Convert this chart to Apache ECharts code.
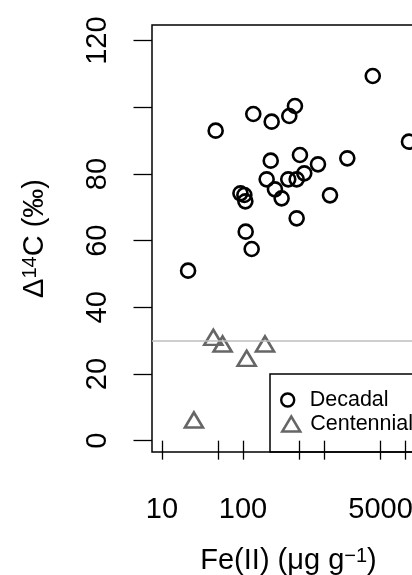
<!DOCTYPE html>
<html><head><meta charset="utf-8">
<script src="https://cdn.jsdelivr.net/npm/echarts@6/dist/echarts.min.js"></script>
<style>html,body{margin:0;padding:0;background:#fff}#c{width:412px;height:575px}</style>
</head><body><div id="c"></div>
<script>
const decadalFe = [4000, 11200, 46, 134, 226, 373, 438, 220, 505, 843, 1940, 196, 248, 300, 362, 460, 571, 1186, 93, 104, 107, 460, 108, 128, 21];
const decadalD14C = [109.4, 89.7, 93.0, 98.0, 95.7, 97.4, 100.4, 84.0, 85.7, 82.9, 84.7, 78.4, 75.4, 72.7, 78.4, 78.4, 80.2, 73.6, 74.2, 73.7, 71.8, 66.7, 62.7, 57.5, 51.0];
const centennialFe = [43, 56, 187, 111, 24.8];
const centennialD14C = [31.0, 29.0, 29.0, 24.7, 6.2];
const xTicks = [10, 50, 100, 500, 1000, 5000, 10000];
const xLabels = [10, 100, 5000];
const yTicks = [0, 20, 40, 60, 80, 100, 120];
const yLabels = [0, 20, 40, 60, 80, 120];
const refLine = 30;
const seriesNames = ['Decadal', 'Centennial'];

const FONT = "'Liberation Sans', Arial, sans-serif";
const chart = echarts.init(document.getElementById('c'), null, {renderer: 'canvas'});
const option = {
  animation: false,
  backgroundColor: '#fff',
  grid: {left: 152, top: 25, width: 273, height: 427, show: true, borderColor: '#000', borderWidth: 1.5,
         backgroundColor: 'transparent', containLabel: false, outerBoundsMode: 'none'},
  xAxis: {
    type: 'log', logBase: 10, min: 7.53, max: 17660,
    axisLine: {show: false}, splitLine: {show: false},
    axisTick: {show: true, inside: false, length: 19, customValues: xTicks, lineStyle: {color: '#000', width: 1.3}},
    axisLabel: {customValues: xLabels, margin: 43, fontSize: 29, color: '#000', fontFamily: FONT,
                formatter: v => String(v)},
    name: 'Fe(II) (μg g{sup|−1})', nameLocation: 'middle', nameGap: 94,
    nameTextStyle: {fontSize: 29, color: '#000', fontFamily: FONT,
      rich: {sup: {fontSize: 20, verticalAlign: 'top', color: '#000', fontFamily: FONT}}}
  },
  yAxis: {
    type: 'value', min: -3.4, max: 124.7,
    axisLine: {show: false}, splitLine: {show: false},
    axisTick: {show: true, inside: false, length: 18.5, customValues: yTicks, lineStyle: {color: '#000', width: 1.3}},
    axisLabel: {customValues: yLabels, rotate: 90, margin: 40, fontSize: 29, color: '#000', fontFamily: FONT},
    name: '{n|Δ}{sup|14}{n|C (‰)}', nameLocation: 'middle', nameRotate: 90, nameGap: 103,
    nameTextStyle: {fontSize: 29, color: '#000', fontFamily: FONT,
      rich: {n: {fontSize: 29, color: '#000', fontFamily: FONT},
             sup: {fontSize: 20, verticalAlign: 'top', color: '#000', fontFamily: FONT}}}
  },
  legend: [
    {data: [seriesNames[0]], left: 280, top: 389, orient: 'vertical', padding: 0, itemWidth: 20, itemHeight: 13,
     selectedMode: false, icon: 'circle',
     itemStyle: {color: 'rgba(0,0,0,0)', borderColor: '#000', borderWidth: 2.4},
     textStyle: {fontSize: 21.5, lineHeight: 21, color: '#000', fontFamily: FONT, padding: [0, 0, 0, 7]}},
    {data: [seriesNames[1]], left: 281, top: 413, orient: 'vertical', padding: 0, itemWidth: 18, itemHeight: 15,
     selectedMode: false, icon: 'triangle',
     itemStyle: {color: 'rgba(0,0,0,0)', borderColor: '#666', borderWidth: 2.5},
     textStyle: {fontSize: 21.5, lineHeight: 21, color: '#000', fontFamily: FONT, padding: [0, 0, 0, 5]}}
  ],
  graphic: [
    {type: 'rect', shape: {x: 270, y: 374, width: 200, height: 78}, style: {fill: 'transparent', stroke: '#000', lineWidth: 1.5}, z: 10, silent: true}
  ],
  series: [
    {type: 'scatter', name: seriesNames[0], symbol: 'circle', symbolSize: 14,
     data: decadalFe.map((x, i) => [x, decadalD14C[i]]),
     itemStyle: {color: 'rgba(0,0,0,0)', borderColor: '#000', borderWidth: 2.6, opacity: 1},
     emphasis: {disabled: true}, silent: true, z: 3},
    {type: 'scatter', name: seriesNames[1], symbol: 'triangle', symbolSize: [18, 15],
     data: centennialFe.map((x, i) => [x, centennialD14C[i]]),
     itemStyle: {color: 'rgba(0,0,0,0)', borderColor: '#666', borderWidth: 2.6, opacity: 1},
     emphasis: {disabled: true}, silent: true, z: 3,
     markLine: {silent: true, symbol: ['none', 'none'], label: {show: false}, animation: false,
       lineStyle: {color: '#bebebe', width: 1.5, type: 'solid'}, emphasis: {disabled: true},
       data: [{yAxis: refLine}]}}
  ]
};
chart.setOption(option);
</script></body></html>
